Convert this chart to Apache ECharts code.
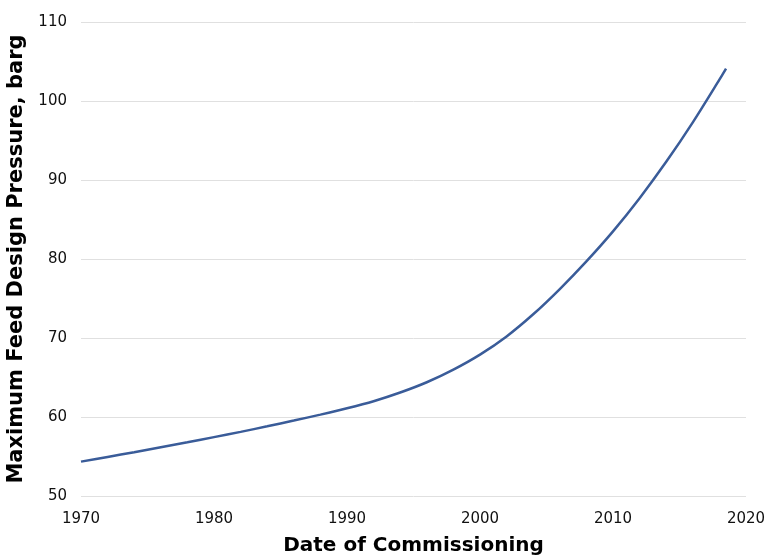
<!DOCTYPE html>
<html>
<head>
<meta charset="utf-8">
<script src="https://cdn.jsdelivr.net/npm/echarts@6/dist/echarts.min.js"></script>
<style>html,body{margin:0;padding:0;background:#fff}#c{width:768px;height:555px}</style>
</head>
<body>
<div id="c"></div>
<script>
const years = [1970,1972,1974,1976,1978,1980,1982,1984,1986,1988,1990,1992,1994,1996,1998,2000,2002,2004,2006,2008,2010,2012,2014,2016,2018,2018.5];
const pressure = [54.35,54.95,55.55,56.17,56.8,57.45,58.12,58.82,59.55,60.3,61.1,62.0,63.1,64.4,66.0,67.9,70.2,73.0,76.2,79.7,83.5,87.7,92.3,97.3,102.7,104.1];
const xTitle = 'Date of Commissioning';
const yTitle = 'Maximum Feed Design Pressure, barg';

const font = 'DejaVu Sans';
const chart = echarts.init(document.getElementById('c'));
chart.setOption({
  animation: false,
  grid: {left: 81, right: 22, top: 22, bottom: 59, outerBoundsMode: 'none', containLabel: false},
  xAxis: {
    type: 'value', min: 1970, max: 2020, interval: 10,
    axisLine: {show: false}, axisTick: {show: false}, splitLine: {show: false},
    axisLabel: {color: '#111', fontFamily: font, fontSize: 15, margin: 16, formatter: v => String(v)},
    name: xTitle, nameLocation: 'middle', nameGap: 40,
    nameTextStyle: {color: '#000', fontFamily: font, fontSize: 20, fontWeight: 'bold'}
  },
  yAxis: {
    type: 'value', min: 50, max: 110, interval: 10,
    axisLine: {show: false}, axisTick: {show: false},
    splitLine: {lineStyle: {color: '#e0e0e0', width: 1}},
    axisLabel: {color: '#111', fontFamily: font, fontSize: 15, margin: 14},
    name: yTitle, nameLocation: 'middle', nameGap: 51, nameRotate: 90,
    nameTextStyle: {color: '#000', fontFamily: font, fontSize: 21, fontWeight: 'bold'}
  },
  series: [{
    type: 'line', smooth: 0.3, showSymbol: false,
    data: years.map((y, i) => [y, pressure[i]]),
    lineStyle: {color: '#3A5C99', width: 2.5}
  }]
});
</script>
</body>
</html>
